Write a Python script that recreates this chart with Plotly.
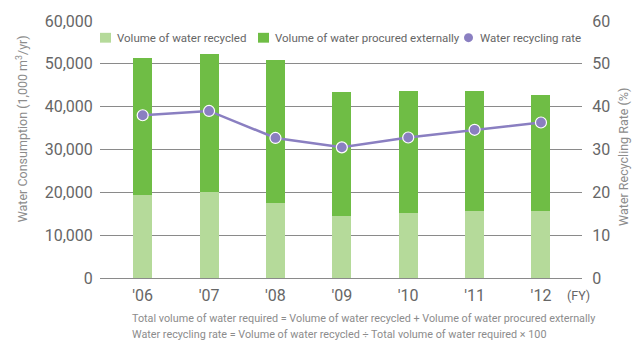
import plotly.graph_objects as go

# Fiscal years and water data (1,000 m3/yr and %)
years = ["'06", "'07", "'08", "'09", "'10", "'11", "'12"]
recycled = [19300, 20000, 17500, 14500, 15200, 15600, 15600]
procured = [32000, 32400, 33300, 28900, 28500, 28100, 27200]
rate = [38.0, 39.0, 32.7, 30.5, 32.8, 34.6, 36.3]

LIGHT = "#b5da9a"
DARK = "#6fbd45"
PURPLE = "#8a7fc1"
GRID = "#8a8a8a"
TXT = "#666666"
NOTE = "#8c8c8c"
FONT = "Roboto, Liberation Sans, sans-serif"

W, H = 633, 344
L, R, T, B = 100, 51, 17, 66
PW, PH = W - L - R, H - T - B

xs = list(range(len(years)))

fig = go.Figure()
fig.add_trace(go.Bar(x=xs, y=recycled, name="Volume of water recycled",
                     marker=dict(color=LIGHT, line=dict(width=0)), width=0.286))
fig.add_trace(go.Bar(x=xs, y=procured, name="Volume of water procured externally",
                     marker=dict(color=DARK, line=dict(width=0)), width=0.286))
fig.add_trace(go.Scatter(x=xs, y=rate, yaxis="y2", mode="lines+markers",
                         name="Water recycling rate",
                         line=dict(color=PURPLE, width=2.5),
                         marker=dict(size=11, color=PURPLE,
                                     line=dict(color="white", width=1.2))))

hidden_tick = dict(ticks="outside", tickcolor="rgba(0,0,0,0)")
fig.update_layout(
    width=W, height=H, autosize=False,
    margin=dict(l=L, r=R, t=T, b=B),
    paper_bgcolor="white", plot_bgcolor="white",
    barmode="stack", showlegend=False,
    font=dict(family=FONT, color=TXT),
    xaxis=dict(range=[-0.643, 6.618], tickvals=xs, ticktext=years,
               showgrid=False, zeroline=False, showline=False,
               tickfont=dict(size=16, color=TXT), ticklen=3, **hidden_tick),
    yaxis=dict(range=[0, 60000], dtick=10000, tickformat=",d",
               showgrid=True, gridcolor=GRID, gridwidth=1.2,
               zeroline=True, zerolinecolor=GRID, zerolinewidth=1.2,
               showline=False,
               tickfont=dict(size=16, color=TXT), ticklen=3, **hidden_tick),
    yaxis2=dict(range=[0, 60], dtick=10, overlaying="y", side="right",
                showgrid=False, zeroline=False, showline=False,
                tickfont=dict(size=16, color=TXT), ticklen=6, **hidden_tick),
)


def px(x, y):
    """Figure pixel position -> paper coordinates of the plot area."""
    return (x - L) / PW, (H - B - y) / PH


annotations = [
    dict(text="Water Consumption (1,000 m<sup>3</sup>/yr)", textangle=-90,
         x=22, y=127, font=dict(size=12.5, color=NOTE)),
    dict(text="Water Recycling Rate (%)", textangle=-90,
         x=624, y=155, font=dict(size=12.5, color=NOTE)),
    dict(text="(FY)", x=578, y=296, font=dict(size=12.5, color=TXT)),
    dict(text="Total volume of water required = Volume of water recycled + Volume of water procured externally",
         x=130, y=319, xanchor="left", font=dict(size=10.8, color=NOTE)),
    dict(text="Water recycling rate = Volume of water recycled ÷ Total volume of water required × 100",
         x=130, y=335, xanchor="left", font=dict(size=10.8, color=NOTE)),
    # legend labels
    dict(text="Volume of water recycled", x=115, y=34, xanchor="left",
         font=dict(size=11.5, color=TXT)),
    dict(text="Volume of water procured externally", x=273, y=34, xanchor="left",
         font=dict(size=11.5, color=TXT)),
    dict(text="Water recycling rate", x=478, y=34, xanchor="left",
         font=dict(size=11.5, color=TXT)),
]
for a in annotations:
    a.setdefault("xanchor", "center")
    ax, ay = px(a.pop("x"), a.pop("y"))
    fig.add_annotation(xref="paper", yref="paper", showarrow=False,
                       x=ax, y=ay, yanchor="middle", **a)

# legend swatches
for x0, color in [(100, LIGHT), (258, DARK)]:
    a0, b0 = px(x0, 29)
    a1, b1 = px(x0 + 11, 39)
    fig.add_shape(type="rect", xref="paper", yref="paper",
                  x0=a0, x1=a1, y0=b1, y1=b0, fillcolor=color, line_width=0)
a0, b0 = px(464, 29.5)
a1, b1 = px(473, 38.5)
fig.add_shape(type="circle", xref="paper", yref="paper",
              x0=a0, x1=a1, y0=b1, y1=b0, fillcolor=PURPLE, line_width=0)

fig.write_html("out.html")
